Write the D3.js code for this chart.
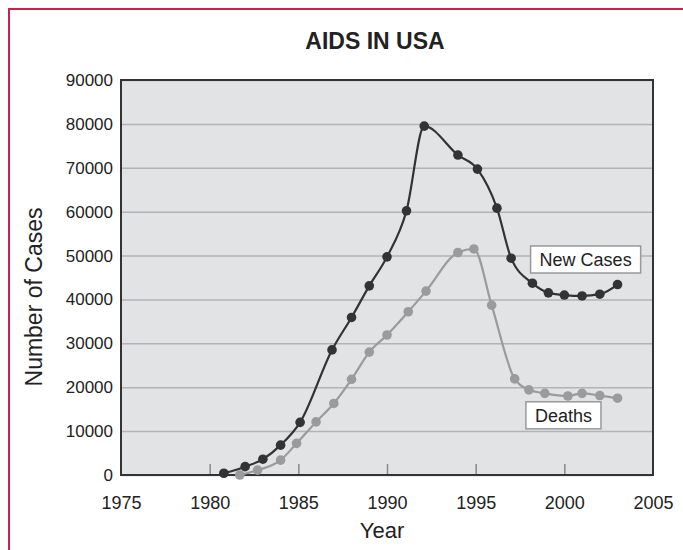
<!DOCTYPE html>
<html>
<head>
<meta charset="utf-8">
<script src="https://cdn.jsdelivr.net/npm/d3@7"></script>
<style>
  body { margin: 0; background: #fff; }
  text { font-family: "Liberation Sans", Arial, sans-serif; fill: #222; }
</style>
</head>
<body>
<div id="aids_chart"></div>
<script>
// data
var caseYears = [1980.8, 1982, 1983, 1984, 1985.1, 1986.9, 1988, 1989, 1990, 1991.1, 1992.1,
                 1994, 1995.1, 1996.2, 1997, 1998.2, 1999.1, 2000, 2001, 2002, 2003];
var newCases = [400, 1900, 3600, 6800, 12000, 28500, 35900, 43100, 49700, 60200, 79500,
                72900, 69700, 60800, 49400, 43700, 41500, 41000, 40800, 41200, 43400];

var deathYears = [1981.7, 1982.7, 1984, 1984.9, 1986, 1987, 1988, 1989, 1990, 1991.2, 1992.2,
                  1994, 1994.9, 1995.9, 1997.2, 1998, 1998.9, 2000.2, 2001, 2002, 2003];
var deaths = [0, 1100, 3400, 7200, 12100, 16300, 21800, 28000, 31900, 37200, 41900,
              50700, 51500, 38700, 21900, 19400, 18600, 18000, 18600, 18100, 17500];

var xTicks = [1975, 1980, 1985, 1990, 1995, 2000, 2005];
var innerTicks = [1980, 1985, 1990, 1995, 2000];
var yTicks = [0, 10000, 20000, 30000, 40000, 50000, 60000, 70000, 80000, 90000];

// label name, anchor year, anchor value
var seriesLabels = [
  {name: "New Cases", year: 2001.2, value: 49100},
  {name: "Deaths", year: 1999.95, value: 13600}
];

(function () {
  var w = 683, h = 550;
  var margin = {top: 80, left: 121, right: 30, bottom: 75};
  var width = w - margin.left - margin.right;
  var height = h - margin.top - margin.bottom;

  var svg = d3.select("#aids_chart")
    .append("svg")
    .attr("width", w)
    .attr("height", h);

  // red page frame
  svg.append("rect")
    .attr("x", 9).attr("y", 9)
    .attr("width", w + 20).attr("height", h + 20)
    .style("fill", "none")
    .style("stroke", "#cf1f4a")
    .style("stroke-width", 2);

  svg.append("text")
    .attr("x", 375)
    .attr("y", 49)
    .attr("text-anchor", "middle")
    .style("font-size", "23px")
    .style("font-weight", "bold")
    .text("AIDS IN USA");

  var g = svg.append("g")
    .attr("transform", "translate(" + margin.left + "," + margin.top + ")");

  var x = d3.scaleLinear().domain([1975, 2005]).range([0, width]);
  var y = d3.scaleLinear().domain([0, 90000]).range([height, 0]);

  g.append("rect")
    .attr("width", width)
    .attr("height", height)
    .style("fill", "#e2e3e5");

  // gridlines + y labels
  var yAxis = g.append("g")
    .call(d3.axisLeft(y).tickValues(yTicks).tickSize(-width).tickPadding(8).tickFormat(d3.format("d")));
  yAxis.select(".domain").remove();
  yAxis.selectAll("line")
    .style("stroke", "#b2b3b5")
    .style("stroke-width", 1.5);
  yAxis.selectAll("text")
    .style("font-size", "17px")
    .style("font-family", "Liberation Sans, Arial, sans-serif")
    .style("fill", "#222");

  // little tick marks inside the plot
  var inner = g.append("g")
    .attr("transform", "translate(0," + height + ")")
    .call(d3.axisBottom(x).tickValues(innerTicks).tickSize(-11).tickFormat(""));
  inner.select(".domain").remove();
  inner.selectAll("line")
    .style("stroke", "#888")
    .style("stroke-width", 1.5);

  var xAxis = g.append("g")
    .attr("transform", "translate(0," + height + ")")
    .call(d3.axisBottom(x).tickValues(xTicks).tickSize(0).tickPadding(21).tickFormat(d3.format("d")));
  xAxis.select(".domain").remove();
  xAxis.selectAll("text")
    .style("font-size", "18px")
    .style("font-family", "Liberation Sans, Arial, sans-serif")
    .style("fill", "#222");

  g.append("rect")
    .attr("width", width)
    .attr("height", height)
    .style("fill", "none")
    .style("stroke", "#333")
    .style("stroke-width", 2);

  var line = d3.line()
    .x(function(d){ return x(d[0]); })
    .y(function(d){ return y(d[1]); })
    .curve(d3.curveMonotoneX);

  var caseData = caseYears.map(function(d, i){ return [d, newCases[i]]; });
  var deathData = deathYears.map(function(d, i){ return [d, deaths[i]]; });

  function drawSeries(data, color) {
    g.append("path")
      .datum(data)
      .attr("d", line)
      .style("fill", "none")
      .style("stroke", color)
      .style("stroke-width", 2.2);

    g.append("g").selectAll("circle")
      .data(data)
      .enter()
      .append("circle")
      .attr("cx", function(d){ return x(d[0]); })
      .attr("cy", function(d){ return y(d[1]); })
      .attr("r", 4.8)
      .style("fill", color);
  }

  drawSeries(deathData, "#9a9b9d");
  drawSeries(caseData, "#333333");

  // boxed series labels
  seriesLabels.forEach(function(d){
    var lg = g.append("g")
      .attr("transform", "translate(" + x(d.year) + "," + y(d.value) + ")");
    var box = lg.append("rect");
    var t = lg.append("text")
      .attr("text-anchor", "middle")
      .attr("dy", "0.35em")
      .style("font-size", "18px")
      .text(d.name);
    var bb = t.node().getBBox();
    box.attr("x", bb.x - 9)
      .attr("y", -13.5)
      .attr("width", bb.width + 18)
      .attr("height", 27)
      .style("fill", "#fff")
      .style("stroke", "#999")
      .style("stroke-width", 1.5);
  });

  svg.append("text")
    .attr("transform", "translate(42,297) rotate(-90)")
    .attr("text-anchor", "middle")
    .style("font-size", "23px")
    .text("Number of Cases");

  svg.append("text")
    .attr("x", margin.left + width / 2 - 5)
    .attr("y", 538)
    .attr("text-anchor", "middle")
    .style("font-size", "22px")
    .text("Year");
})();
</script>
</body>
</html>
